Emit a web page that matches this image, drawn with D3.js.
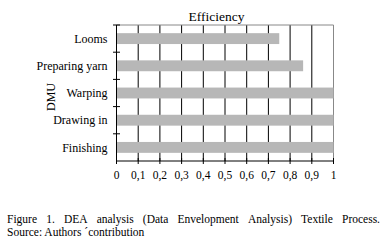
<!DOCTYPE html>
<html>
<head>
<meta charset="utf-8">
<script src="https://cdn.jsdelivr.net/npm/d3@7"></script>
<style>
  body { margin: 0; background: #fff; }
  svg { display: block; }
  text { font-family: "Liberation Serif", "DejaVu Serif", serif; fill: #000; }
</style>
</head>
<body>
<div id="chart"></div>
<script>
const categories = ['Looms', 'Preparing yarn', 'Warping', 'Drawing in', 'Finishing'];
const efficiency = [0.75, 0.86, 1, 1, 1];
const xTicks = [0, 0.1, 0.2, 0.3, 0.4, 0.5, 0.6, 0.7, 0.8, 0.9, 1];
const captionLines = [
  'Figure 1. DEA analysis (Data Envelopment Analysis) Textile Process.',
  'Source: Authors \u00b4contribution'
];

const width = 389, height = 248;
const margin = { top: 25, right: 55.5, bottom: 87, left: 116.5 };

const svg = d3.select('#chart').append('svg')
  .attr('width', width)
  .attr('height', height);

const x = d3.scaleLinear()
  .domain([0, 1])
  .range([margin.left, width - margin.right]);

const y = d3.scaleBand()
  .domain(categories)
  .range([margin.top, height - margin.bottom])
  .paddingInner(0.6)
  .paddingOuter(0.3);

// grid lines
svg.append('g')
  .selectAll('line')
  .data(xTicks.slice(1, -1))
  .enter().append('line')
  .attr('x1', d => x(d)).attr('x2', d => x(d))
  .attr('y1', margin.top).attr('y2', height - margin.bottom)
  .attr('stroke', '#000')
  .attr('stroke-width', 1);

// frame top + right
svg.append('path')
  .attr('d', `M${x(0)},${margin.top}H${x(1)}V${height - margin.bottom}`)
  .attr('fill', 'none')
  .attr('stroke', '#888')
  .attr('stroke-width', 1);

// bars
svg.append('g')
  .selectAll('rect')
  .data(categories)
  .enter().append('rect')
  .attr('x', x(0))
  .attr('y', d => y(d))
  .attr('width', (d, i) => x(efficiency[i]) - x(0))
  .attr('height', y.bandwidth())
  .attr('fill', '#b7b7b7');

// y axis
const yBoundaries = d3.range(categories.length + 1)
  .map(i => margin.top + i * (height - margin.bottom - margin.top) / categories.length);
const yAxis = svg.append('g');
yAxis.append('line')
  .attr('x1', x(0)).attr('x2', x(0))
  .attr('y1', margin.top).attr('y2', height - margin.bottom)
  .attr('stroke', '#000');
yAxis.selectAll('.tick')
  .data(yBoundaries.slice(0, -1))
  .enter().append('line')
  .attr('x1', x(0) - 3.5).attr('x2', x(0) + 3.5)
  .attr('y1', d => d).attr('y2', d => d)
  .attr('stroke', '#000');
yAxis.selectAll('text')
  .data(categories)
  .enter().append('text')
  .attr('x', x(0) - 9)
  .attr('y', d => y(d) + y.bandwidth() / 2)
  .attr('dy', '0.35em')
  .attr('text-anchor', 'end')
  .attr('font-size', 12)
  .text(d => d);

// x axis
const xAxis = svg.append('g');
xAxis.append('line')
  .attr('x1', x(0)).attr('x2', x(1))
  .attr('y1', height - margin.bottom).attr('y2', height - margin.bottom)
  .attr('stroke', '#000');
xAxis.selectAll('.tick')
  .data(xTicks)
  .enter().append('line')
  .attr('x1', d => x(d)).attr('x2', d => x(d))
  .attr('y1', height - margin.bottom - 3).attr('y2', height - margin.bottom + 3)
  .attr('stroke', '#000');
xAxis.selectAll('text')
  .data(xTicks)
  .enter().append('text')
  .attr('x', d => x(d))
  .attr('y', height - margin.bottom + 17.5)
  .attr('text-anchor', 'middle')
  .attr('font-size', 11.5)
  .text(d => String(d).replace('.', ','));

// title
svg.append('text')
  .attr('x', 216.5)
  .attr('y', 21)
  .attr('text-anchor', 'middle')
  .attr('font-size', 13.5)
  .text('Efficiency');

// y label
svg.append('text')
  .attr('transform', 'translate(55,97) rotate(-90)')
  .attr('text-anchor', 'middle')
  .attr('font-size', 12)
  .text('DMU');

// caption, first line justified word by word
const capLeft = 7, capRight = 380;
const words = captionLines[0].split(' ');
const line1 = svg.append('g');
const wordNodes = words.map(w => line1.append('text')
  .attr('y', 223)
  .attr('font-size', 11.5)
  .text(w));
const widths = wordNodes.map(n => n.node().getComputedTextLength());
const gap = (capRight - capLeft - d3.sum(widths)) / (words.length - 1);
let cx = capLeft;
wordNodes.forEach((n, i) => {
  n.attr('x', cx);
  cx += widths[i] + gap;
});
svg.append('text')
  .attr('x', capLeft)
  .attr('y', 236)
  .attr('font-size', 11.5)
  .text(captionLines[1]);
</script>
</body>
</html>
